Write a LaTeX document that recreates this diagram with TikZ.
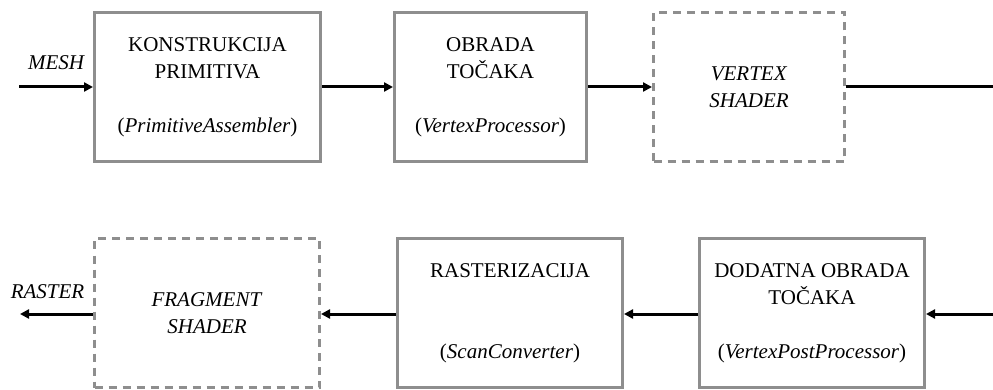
\documentclass[tikz,border=0pt]{standalone}
\usepackage{fontspec}
\setmainfont{Liberation Serif}
\usetikzlibrary{arrows.meta}
\definecolor{boxgray}{HTML}{8E8E8E}
\tikzset{
  stage/.style={draw=boxgray, line width=3pt, rectangle, minimum width=226pt, minimum height=149pt, align=center, inner sep=0pt, font=\fontsize{21}{27}\selectfont},
  shaderbox/.style={stage, dash pattern=on 8pt off 6pt},
  flow/.style={line width=3pt, -{Triangle[length=9pt,width=9pt]}},
  plainflow/.style={line width=3pt},
  lbl/.style={font=\fontsize{21}{27}\selectfont\itshape, anchor=base, inner sep=0pt}
}
\begin{document}
\begin{tikzpicture}[x=1pt,y=-1pt]
\useasboundingbox (0,0) rectangle (993,390);
% top row
\node[stage] (prim) at (207.5,87) {KONSTRUKCIJA\\PRIMITIVA\\[27pt](\textit{PrimitiveAssembler})};
\node[stage, minimum width=192pt] (vproc) at (490.5,87) {OBRADA\\TOČAKA\\[27pt](\textit{VertexProcessor})};
\node[shaderbox, minimum width=191pt] (vsh) at (749,87) {\textit{VERTEX}\\\textit{SHADER}};
% bottom row
\node[shaderbox, minimum width=225pt] (fsh) at (207,313) {\textit{FRAGMENT}\\\textit{SHADER}};
\node[stage, minimum width=225pt] (rast) at (510,313) {RASTERIZACIJA\\[54pt](\textit{ScanConverter})};
\node[stage, minimum width=225pt] (post) at (812,313) {DODATNA OBRADA\\TOČAKA\\[27pt](\textit{VertexPostProcessor})};
% free ends
\coordinate (in) at (19,87);
\coordinate (topout) at (993,87);
\coordinate (botin) at (993,314);
\coordinate (out) at (20,314);
% labels
\node[lbl] (meshlbl) at (56,70) {MESH};
\node[lbl] (rasterlbl) at (47.5,298) {RASTER};
% connectors
\draw[flow] (in) -- (prim.west);
\draw[flow] (prim.east) -- (vproc.west);
\draw[flow] (vproc.east) -- (vsh.west);
\draw[plainflow] (vsh.east) -- (topout);
\draw[flow] (botin) -- (post.east |- botin);
\draw[flow] (post.west |- botin) -- (rast.east |- botin);
\draw[flow] (rast.west |- botin) -- (fsh.east |- botin);
\draw[flow] (fsh.west |- botin) -- (out);
\end{tikzpicture}
\end{document}
